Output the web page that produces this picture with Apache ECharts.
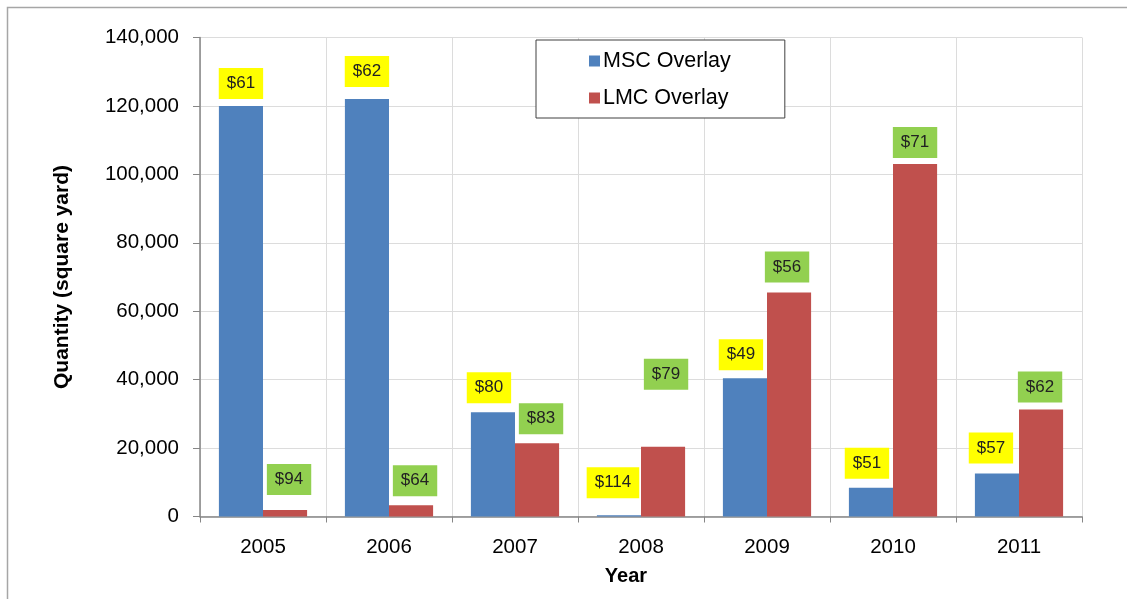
<!DOCTYPE html>
<html>
<head>
<meta charset="utf-8">
<script src="https://cdn.jsdelivr.net/npm/echarts@6/dist/echarts.min.js"></script>
<style>
  html, body { margin: 0; padding: 0; background: #fff; }
  #chart { width: 1127px; height: 599px; }
</style>
</head>
<body>
<div id="chart"></div>
<script>
// data
const years = ['2005', '2006', '2007', '2008', '2009', '2010', '2011']
const mscQty = [120000, 122000, 30500, 400, 40400, 8400, 12600]
const lmcQty = [1900, 3300, 21400, 20400, 65500, 103000, 31300]
const mscPrice = [61, 62, 80, 114, 49, 51, 57]
const lmcPrice = [94, 64, 83, 79, 56, 71, 62]
const yTicks = { min: 0, max: 140000, interval: 20000 }

// hand placed label boxes: [dx, gap above bar]
const mscLabelShift = [[0, 7], [0, 12], [-4, 9], [-6, 17], [-4, 8], [-4, 9], [-6, 10]]
const lmcLabelShift = [[4, 15], [4, 9], [4, 9], [3, 57], [-2, 10], [0, 6], [-1, 7]]

const font = 'Liberation Sans, Arial, sans-serif'

function withLabels(values, shifts, prices, boxColor) {
  return values.map((v, i) => ({
    value: v,
    label: {
      show: true,
      position: 'top',
      distance: shifts[i][1],
      offset: [shifts[i][0], 0],
      formatter: '$' + prices[i],
      backgroundColor: boxColor,
      padding: [7, 8, 7, 8],
      color: '#222',
      fontSize: 17,
      fontFamily: font
    }
  }))
}

const chart = echarts.init(document.getElementById('chart'))

chart.setOption({
  animation: false,
  backgroundColor: '#fff',
  graphic: [{
    type: 'rect',
    shape: { x: 7.5, y: 7.5, width: 1200, height: 700 },
    style: { fill: 'none', stroke: '#a6a6a6', lineWidth: 1.5 },
    silent: true
  }],
  grid: { left: 200, right: 45, top: 37.5, bottom: 82.5 },
  legend: {
    orient: 'vertical',
    left: 536,
    top: 40,
    padding: [10, 54, 9, 53],
    itemGap: 15,
    itemWidth: 11,
    itemHeight: 11,
    icon: 'rect',
    borderColor: '#404040',
    borderWidth: 1,
    backgroundColor: '#fff',
    textStyle: { fontSize: 21.5, fontFamily: font, color: '#000', padding: [0, 0, 0, -2] },
    data: ['MSC Overlay', 'LMC Overlay']
  },
  xAxis: {
    type: 'category',
    data: years,
    name: 'Year',
    nameLocation: 'middle',
    nameGap: 50,
    nameTextStyle: { fontSize: 20, fontWeight: 'bold', fontFamily: font, color: '#000', padding: [0, 30, 0, 0] },
    axisLine: { lineStyle: { color: '#868686', width: 1.5 } },
    axisTick: { show: true, length: 6, lineStyle: { color: '#868686' } },
    axisLabel: { fontSize: 20.5, fontFamily: font, color: '#000', margin: 20 },
    splitLine: { show: true, lineStyle: { color: '#dcdcdc' } }
  },
  yAxis: {
    type: 'value',
    min: yTicks.min,
    max: yTicks.max,
    interval: yTicks.interval,
    name: 'Quantity (square yard)',
    nameLocation: 'middle',
    nameGap: 127,
    nameTextStyle: { fontSize: 21, fontWeight: 'bold', fontFamily: font, color: '#000' },
    axisLine: { show: true, lineStyle: { color: '#868686', width: 1.5 } },
    axisTick: { show: true, length: 7, lineStyle: { color: '#868686' } },
    axisLabel: {
      fontSize: 20.5,
      fontFamily: font,
      color: '#000',
      margin: 21,
      formatter: v => v.toLocaleString('en-US')
    },
    splitLine: { show: true, lineStyle: { color: '#dcdcdc' } }
  },
  series: [
    {
      name: 'MSC Overlay',
      type: 'bar',
      barWidth: '35%',
      barGap: '0%',
      itemStyle: { color: '#4F81BD' },
      data: withLabels(mscQty, mscLabelShift, mscPrice, '#FFFF00')
    },
    {
      name: 'LMC Overlay',
      type: 'bar',
      barWidth: '35%',
      barGap: '0%',
      itemStyle: { color: '#C0504D' },
      data: withLabels(lmcQty, lmcLabelShift, lmcPrice, '#92D050')
    }
  ]
})
</script>
</body>
</html>
